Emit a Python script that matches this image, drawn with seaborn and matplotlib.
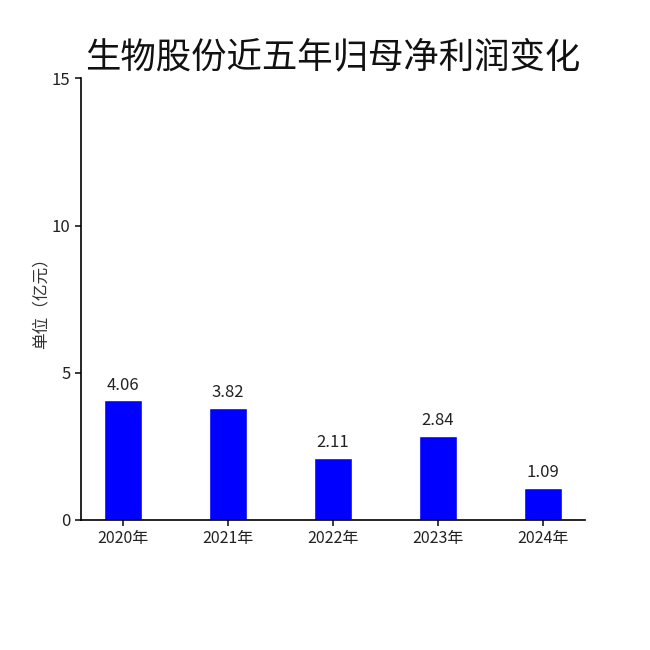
import matplotlib
matplotlib.use("Agg")
import matplotlib.pyplot as plt
import seaborn as sns
import pandas as pd

years = ["2020年", "2021年", "2022年", "2023年", "2024年"]
profits = [4.06, 3.82, 2.11, 2.84, 1.09]
yticks = [0, 5, 10, 15]
title = "生物股份近五年归母净利润变化"
ylabel = "单位（亿元）"

sns.set_theme(style="ticks")
plt.rcParams['font.family'] = ['Noto Sans CJK SC', 'DejaVu Sans']

df = pd.DataFrame({"year": years, "profit": profits})

fig = plt.figure(figsize=(6.5, 6.5), dpi=100)
ax = fig.add_axes([0.1246, 0.2, 0.9 - 0.1246, 0.8795 - 0.2])
sns.barplot(data=df, x="year", y="profit", color="#0000FF", saturation=1,
            width=0.36, ax=ax)
for p, v in zip(ax.patches, profits):
    ax.annotate(f"{v:.2f}", (p.get_x() + p.get_width() / 2, p.get_height()),
                xytext=(0, 5), textcoords="offset points", ha="center",
                va="bottom", fontsize=12, color="#222222")

ax.set_ylim(0, 15)
ax.set_yticks(yticks)
ax.set_xlim(-0.4, 4.4)
ax.set_xlabel("")
ax.set_ylabel(ylabel, fontsize=12, color="#333333", labelpad=2)
ax.tick_params(axis="y", labelsize=12, colors="#222222", length=4)
ax.tick_params(axis="x", labelsize=11.5, colors="#222222", length=4)
sns.despine(ax=ax)
for s in ["left", "bottom"]:
    ax.spines[s].set_color("black")
    ax.spines[s].set_linewidth(1.2)
ax.set_title(title, fontsize=25.5, pad=8, color="#111111")

fig.savefig("out.png", dpi=100)
